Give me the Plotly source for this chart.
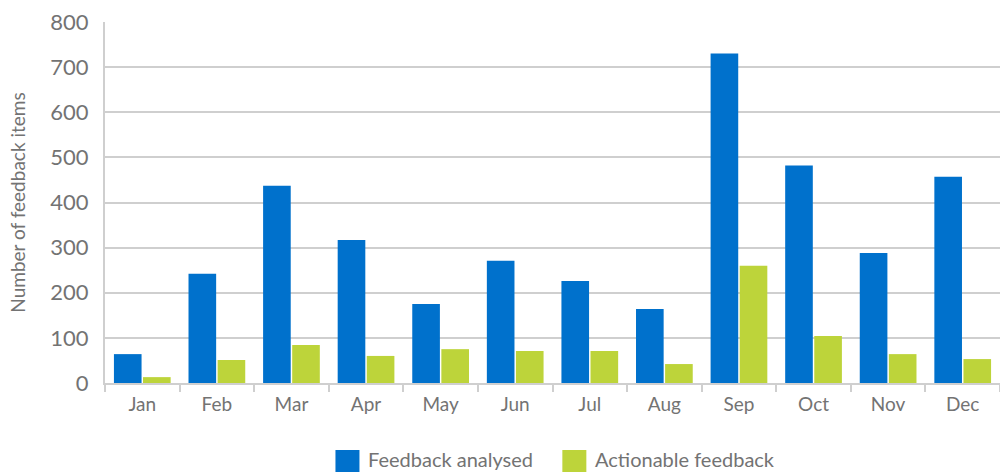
import plotly.graph_objects as go

months = ["Jan", "Feb", "Mar", "Apr", "May", "Jun", "Jul", "Aug", "Sep", "Oct", "Nov", "Dec"]
feedback_analysed = [64, 242, 437, 317, 175, 271, 226, 164, 730, 482, 288, 457]
actionable_feedback = [13, 51, 84, 60, 75, 71, 71, 42, 260, 104, 64, 53]
series_names = ["Feedback analysed", "Actionable feedback"]
y_ticks = [0, 100, 200, 300, 400, 500, 600, 700, 800]

BLUE = "#0071CC"
GREEN = "#BDD43A"
TEXT = "#737373"
GRID = "#cfcfcf"
FONT = "Lato, Open Sans, sans-serif"

fig = go.Figure()
fig.add_trace(go.Bar(x=months, y=feedback_analysed, name=series_names[0],
                     marker=dict(color=BLUE, line=dict(width=0))))
fig.add_trace(go.Bar(x=months, y=actionable_feedback, name=series_names[1],
                     marker=dict(color=GREEN, line=dict(width=0))))

fig.update_layout(
    width=1000, height=472,
    margin=dict(l=105, r=0, t=22, b=89),
    paper_bgcolor="white", plot_bgcolor="white",
    barmode="group", bargap=0.22, bargroupgap=0.05,
    showlegend=False,
    font=dict(family=FONT, color=TEXT, size=18),
)
fig.update_xaxes(
    showline=True, linecolor=GRID, linewidth=2,
    ticks="outside", tickson="boundaries", ticklen=7, tickcolor=GRID, tickwidth=1.5,
    tickfont=dict(size=19, color=TEXT), ticklabelstandoff=3,
    showgrid=False,
)
fig.update_yaxes(
    range=[0, 800], tickvals=y_ticks,
    showgrid=True, gridcolor=GRID, gridwidth=1.5,
    showline=True, linecolor=GRID, linewidth=2,
    zeroline=False,
    tickfont=dict(size=22, color=TEXT), ticklabelstandoff=10,
    title=dict(text="Number of feedback items", font=dict(size=19, color=TEXT), standoff=20),
)

# legend drawn as swatches with text labels underneath the plot
legend_items = [(0.2575, series_names[0], BLUE), (0.511, series_names[1], GREEN)]
for x0, label, color in legend_items:
    fig.add_shape(type="rect", xref="paper", yref="paper",
                  x0=x0, x1=x0 + 24 / 895, y0=-(450 - 383 + 24) / 361, y1=-(450 - 383) / 361,
                  fillcolor=color, line=dict(width=0))
    fig.add_annotation(xref="paper", yref="paper", x=x0 + 31 / 895, y=-(459 - 383) / 361,
                       text=label, showarrow=False, xanchor="left", yanchor="middle",
                       font=dict(size=20, color=TEXT))

fig.write_html("out.html")
